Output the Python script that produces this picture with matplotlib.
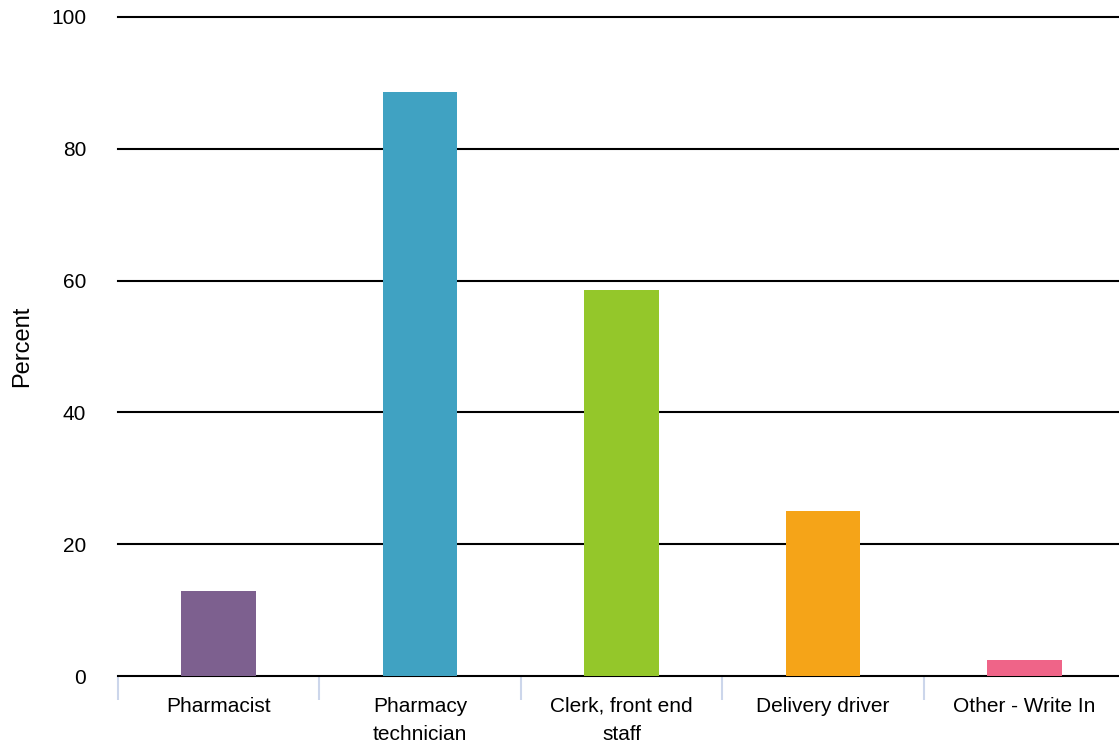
import matplotlib
matplotlib.use("Agg")
import matplotlib.pyplot as plt
import numpy as np

categories = ["Pharmacist", "Pharmacy\ntechnician", "Clerk, front end\nstaff", "Delivery driver", "Other - Write In"]
values = [12.9, 88.6, 58.5, 25.0, 2.5]
colors = ["#7d608f", "#40a2c2", "#94c72a", "#f5a418", "#ef6488"]
yticks = [0, 20, 40, 60, 80, 100]

plt.rcParams['font.family'] = ['Liberation Sans', 'DejaVu Sans']

W, H = 1119, 744
AX_W = 1007
fig = plt.figure(figsize=(W/100, H/100), dpi=100)
ax = fig.add_axes([118/W, 1-676/H, AX_W/W, (676-17)/H])

x = np.arange(len(categories))
ax.bar(x, values, width=0.37, color=colors, zorder=3)

ax.set_xlim(-0.5, len(categories)-0.5)
ax.set_ylim(0, 100)
ax.set_yticks(yticks)
ax.set_yticklabels([str(v) for v in yticks], fontsize=15, color="#000000")
ax.tick_params(axis='y', length=0, pad=23)
for v in yticks:
    ax.axhline(v, color="black", linewidth=1.5, zorder=2, clip_on=False)

ax.set_xticks(x)
ax.set_xticklabels(categories, fontsize=15, linespacing=1.58)
ax.tick_params(axis='x', length=0, pad=15)
ax.set_xticks(np.arange(len(categories)+1)-0.5, minor=True)
ax.tick_params(axis='x', which='minor', length=17, width=1.5, color="#ccd6eb", direction='out')

for s in ax.spines.values():
    s.set_visible(False)

ax.set_ylabel("Percent", fontsize=17)
ax.yaxis.set_label_coords(-85 / AX_W, 0.5)

fig.savefig("out.png", dpi=100)
